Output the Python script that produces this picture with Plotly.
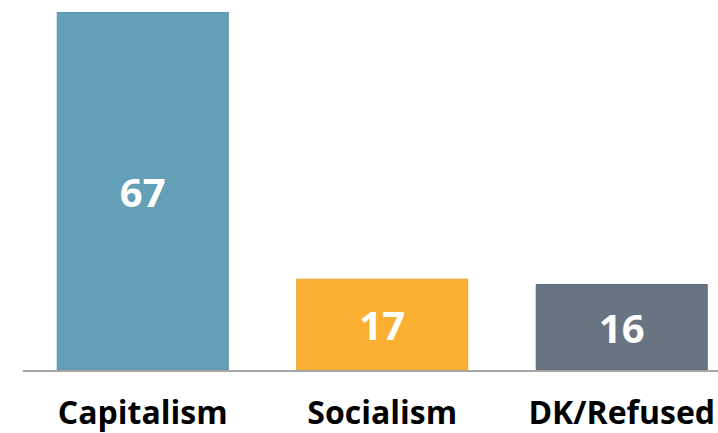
import plotly.graph_objects as go

categories = ["Capitalism", "Socialism", "DK/Refused"]
values = [67, 17, 16]
colors = ["#649fb8", "#fbb034", "#687482"]
border_colors = ["#5a90a7", "#e9a22f", "#5f6a77"]

fig = go.Figure(
    go.Bar(
        x=categories,
        y=values,
        text=[str(v) for v in values],
        textposition="inside",
        insidetextanchor="middle",
        textfont=dict(family="Open Sans", size=40, color="white", weight="bold"),
        marker=dict(color=colors, line=dict(color=border_colors, width=1)),
        width=0.714,
        hoverinfo="skip",
    )
)

fig.update_layout(
    width=718,
    height=433,
    margin=dict(l=23, r=0, t=12, b=63, autoexpand=False),
    paper_bgcolor="white",
    plot_bgcolor="white",
    showlegend=False,
    uniformtext=dict(mode=False),
)
fig.update_xaxes(
    range=[-0.5, 2.402],
    automargin=False,
    showline=True,
    linecolor="#a6a6a6",
    linewidth=1.5,
    showgrid=False,
    ticks="",
    tickfont=dict(family="Open Sans", size=32, color="black", weight="bold"),
    ticklabelstandoff=14,
)
fig.update_yaxes(
    range=[0, 67],
    automargin=False,
    visible=False,
    showgrid=False,
    zeroline=False,
)

fig.write_html(
    "out.html",
    config={"displayModeBar": False},
    post_script="document.body.style.margin='0';document.body.style.overflow='hidden';",
)
